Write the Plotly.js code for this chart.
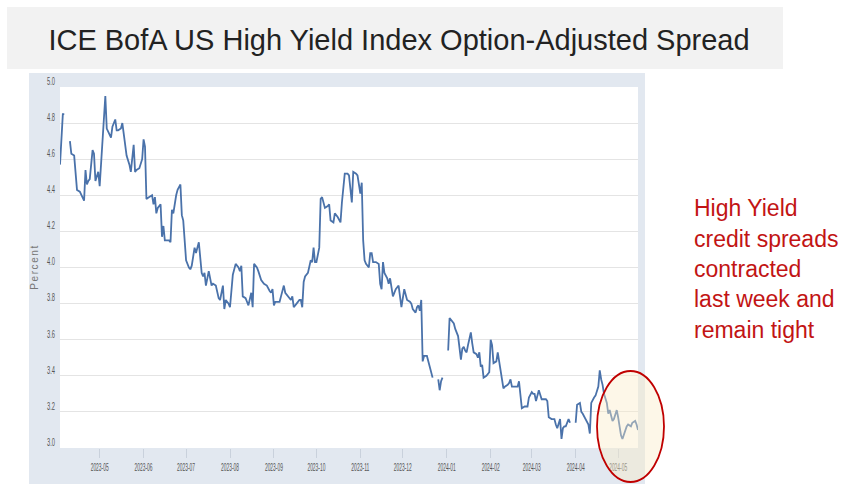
<!DOCTYPE html>
<html>
<head>
<meta charset="utf-8">
<script src="https://cdn.plot.ly/plotly-3.0.1.min.js"></script>
<style>
  html, body { margin: 0; padding: 0; background: #ffffff; }
  #chart { width: 854px; height: 491px; }
</style>
</head>
<body>
<div id="chart"></div>
<script>
// ICE BofA US High Yield Index Option-Adjusted Spread (percent)
const dates = [
  '2023-04-03','2023-04-05','2023-04-06','2023-04-07','2023-04-10','2023-04-11','2023-04-13','2023-04-14','2023-04-15','2023-04-17',
  '2023-04-19','2023-04-20','2023-04-21','2023-04-22','2023-04-23','2023-04-24','2023-04-26','2023-04-27','2023-04-28','2023-04-29',
  '2023-04-30','2023-05-01','2023-05-03','2023-05-05','2023-05-06','2023-05-07','2023-05-09','2023-05-10','2023-05-12','2023-05-13',
  '2023-05-14','2023-05-16','2023-05-17','2023-05-18','2023-05-20','2023-05-22','2023-05-23','2023-05-25','2023-05-26','2023-05-27',
  '2023-05-29','2023-05-31','2023-06-01','2023-06-02','2023-06-03','2023-06-05','2023-06-07','2023-06-08','2023-06-09','2023-06-10',
  '2023-06-11','2023-06-13','2023-06-14','2023-06-15','2023-06-16','2023-06-19','2023-06-20','2023-06-21','2023-06-22','2023-06-24',
  '2023-06-25','2023-06-27','2023-06-28','2023-06-29','2023-07-01','2023-07-03','2023-07-04','2023-07-05','2023-07-07','2023-07-08',
  '2023-07-10','2023-07-12','2023-07-13','2023-07-14','2023-07-15','2023-07-17','2023-07-19','2023-07-20','2023-07-22','2023-07-24',
  '2023-07-25','2023-07-27','2023-07-28','2023-07-29','2023-07-31','2023-08-01','2023-08-03','2023-08-05','2023-08-07','2023-08-08',
  '2023-08-09','2023-08-10','2023-08-12','2023-08-13','2023-08-14','2023-08-16','2023-08-17','2023-08-18','2023-08-20','2023-08-21',
  '2023-08-23','2023-08-25','2023-08-27','2023-08-29','2023-08-30','2023-08-31','2023-09-01','2023-09-02','2023-09-03','2023-09-05',
  '2023-09-06','2023-09-08','2023-09-09','2023-09-11','2023-09-13','2023-09-14','2023-09-15','2023-09-17','2023-09-19','2023-09-20',
  '2023-09-21','2023-09-22','2023-09-23','2023-09-25','2023-09-27','2023-09-28','2023-09-29','2023-09-30','2023-10-01','2023-10-03',
  '2023-10-04','2023-10-05','2023-10-07','2023-10-09','2023-10-10','2023-10-11','2023-10-13','2023-10-14','2023-10-16','2023-10-18',
  '2023-10-19','2023-10-21','2023-10-23','2023-10-24','2023-10-26','2023-10-27','2023-10-29','2023-10-30','2023-10-31','2023-11-01',
  '2023-11-02','2023-11-03','2023-11-04','2023-11-05','2023-11-07','2023-11-08','2023-11-09','2023-11-10','2023-11-12','2023-11-14',
  '2023-11-15','2023-11-16','2023-11-17','2023-11-18','2023-11-20','2023-11-21','2023-11-22','2023-11-23','2023-11-24','2023-11-26',
  '2023-11-28','2023-11-30','2023-12-01','2023-12-02','2023-12-04','2023-12-06','2023-12-07','2023-12-08','2023-12-10','2023-12-11',
  '2023-12-12','2023-12-13','2023-12-14','2023-12-15','2023-12-16','2023-12-18','2023-12-20','2023-12-21','2023-12-22','2023-12-25',
  '2023-12-26','2023-12-27','2023-12-28','2023-12-29','2024-01-01','2024-01-02','2024-01-03','2024-01-06','2024-01-07','2024-01-09',
  '2024-01-10','2024-01-11','2024-01-12','2024-01-13','2024-01-14','2024-01-15','2024-01-16','2024-01-18','2024-01-19','2024-01-20',
  '2024-01-22','2024-01-23','2024-01-24','2024-01-25','2024-01-26','2024-01-27','2024-01-29','2024-01-30','2024-01-31','2024-02-01',
  '2024-02-02','2024-02-03','2024-02-05','2024-02-06','2024-02-08','2024-02-10','2024-02-11','2024-02-13','2024-02-14','2024-02-15',
  '2024-02-16','2024-02-18','2024-02-20','2024-02-21','2024-02-22','2024-02-23','2024-02-25','2024-02-27','2024-02-28','2024-03-01',
  '2024-03-02','2024-03-03','2024-03-04','2024-03-05','2024-03-06','2024-03-08','2024-03-09','2024-03-11','2024-03-12','2024-03-13',
  '2024-03-15','2024-03-17','2024-03-18','2024-03-19','2024-03-21','2024-03-22','2024-03-23','2024-03-24','2024-03-25','2024-03-26',
  '2024-03-27','2024-03-28','2024-03-29','2024-04-01','2024-04-02','2024-04-04','2024-04-05','2024-04-06','2024-04-08','2024-04-10',
  '2024-04-11','2024-04-12','2024-04-14','2024-04-15','2024-04-17','2024-04-18','2024-04-19','2024-04-20','2024-04-21','2024-04-23',
  '2024-04-24','2024-04-25','2024-04-26','2024-04-27','2024-04-28','2024-04-30','2024-05-01','2024-05-02','2024-05-03','2024-05-04',
  '2024-05-06','2024-05-07','2024-05-08','2024-05-10','2024-05-11','2024-05-13','2024-05-14','2024-05-15'
];
const spread = [
  4.57, 4.85, 4.85, null, 4.70, 4.63, 4.62, 4.50, 4.43, 4.42,
  4.39, 4.37, 4.54, 4.46, 4.48, 4.49, 4.65, 4.63, 4.48, 4.50,
  4.53, 4.45, 4.72, 4.95, 4.77, 4.75, 4.72, 4.78, 4.82, 4.76,
  4.76, 4.77, 4.80, 4.74, 4.62, 4.57, 4.53, 4.68, 4.53, 4.54,
  4.55, 4.60, 4.71, 4.67, 4.38, 4.39, 4.40, 4.35, 4.39, 4.30,
  4.33, 4.35, 4.17, 4.23, 4.15, 4.15, 4.14, 4.32, 4.30, 4.40,
  4.43, 4.46, 4.29, 4.26, 4.04, 4.00, 3.99, 4.01, 4.11, 4.08,
  4.14, 3.97, 3.95, 3.97, 3.90, 3.98, 3.90, 3.91, 3.90, 3.83,
  3.82, 3.90, 3.77, 3.82, 3.80, 3.78, 3.96, 4.02, 4.00, 3.98,
  4.01, 3.84, 3.83, 3.81, 3.79, 3.86, 3.78, 4.02, 4.00, 3.98,
  3.93, 3.91, 3.90, 3.87, 3.86, 3.88, 3.79, 3.81, 3.81, 3.81,
  3.84, 3.90, 3.86, 3.84, 3.82, 3.84, 3.78, 3.80, 3.82, 3.82,
  3.78, 3.92, 3.95, 3.97, 4.04, 4.03, 4.11, 4.03, 4.03, 4.11,
  4.38, 4.39, 4.33, 4.34, 4.35, 4.26, 4.25, 4.30, 4.28, 4.25,
  4.36, 4.52, 4.52, 4.51, 4.36, 4.53, 4.52, 4.51, 4.47, 4.41,
  4.47, 4.15, 4.04, 4.02, 4.00, 4.08, 4.08, 4.03, 4.03, 4.02,
  3.91, 3.88, 4.03, 3.97, 3.94, 3.91, 3.94, 3.89, 3.84, 3.88,
  3.90, 3.78, 3.84, 3.88, 3.82, 3.81, 3.80, 3.77, 3.75, 3.78,
  3.79, 3.76, 3.82, 3.48, 3.51, 3.51, 3.45, 3.42, 3.39, null,
  3.38, 3.32, 3.37, 3.39, null, 3.54, 3.72, 3.69, 3.66, 3.62,
  3.56, 3.49, 3.55, 3.56, 3.54, 3.53, 3.57, 3.64, 3.58, 3.53,
  3.52, 3.50, 3.53, 3.45, 3.46, 3.39, 3.40, 3.41, 3.42, 3.60,
  3.57, 3.47, 3.48, 3.53, 3.44, 3.33, 3.34, 3.35, 3.36, 3.38,
  3.34, 3.34, 3.34, 3.37, 3.31, 3.22, 3.23, 3.23, 3.28, 3.31,
  3.30, 3.30, 3.26, 3.30, 3.32, 3.27, 3.27, 3.27, 3.26, 3.17,
  3.16, 3.16, 3.13, 3.11, 3.16, 3.05, 3.11, 3.12, 3.12, 3.14,
  3.16, 3.14, null, 3.14, 3.24, 3.25, 3.20, 3.19, 3.16, 3.13,
  3.08, 3.25, 3.28, 3.29, 3.34, 3.43, 3.38, 3.35, 3.30, 3.25,
  3.19, 3.21, 3.18, 3.15, 3.16, 3.21, 3.17, 3.12, 3.07, 3.05,
  3.10, 3.12, 3.13, 3.12, 3.14, 3.15, 3.13, 3.10
];
const xRange = ['2023-04-03', '2024-05-15'];
const yRange = [3.0, 5.0];
const chartTitle = 'ICE BofA US High Yield Index Option-Adjusted Spread';
const yTitle = 'Percent';
const noteLines = ['High Yield', 'credit spreads', 'contracted', 'last week and', 'remain tight'];

const trace = {
  type: 'scatter', mode: 'lines',
  x: dates, y: spread,
  connectgaps: false,
  line: { color: '#4a72aa', width: 1.8 },
  hoverinfo: 'skip'
};

// plot area: x 60..638, y 87..448 px
const L = 60, R = 638, T = 87, B = 448;
const px = x => (x - L) / (R - L);
const py = y => (B - y) / (B - T);

const annotations = [
  { xref: 'paper', yref: 'paper', x: px(34), y: py(268), text: yTitle, textangle: -90,
    showarrow: false, font: { family: 'Liberation Sans, Arial, sans-serif', size: 10, color: '#777777' },
    xanchor: 'center', yanchor: 'middle' }
];
const noteY = [208, 239, 269, 299, 330];
noteLines.forEach((t, i) => annotations.push({
  xref: 'paper', yref: 'paper', x: px(692), y: py(noteY[i]), text: t, showarrow: false,
  xanchor: 'left', yanchor: 'middle',
  font: { family: 'Liberation Sans, Arial, sans-serif', size: 23, color: '#c21414' }
}));

const layout = {
  width: 854, height: 491,
  margin: { l: L, r: 854 - R, t: T, b: 491 - B, pad: 0 },
  paper_bgcolor: '#ffffff',
  plot_bgcolor: 'rgba(0,0,0,0)',
  showlegend: false,
  title: {
    text: chartTitle, xref: 'container', yref: 'container',
    x: 399 / 854, xanchor: 'center', y: 1 - 40 / 491, yanchor: 'middle',
    font: { family: 'Liberation Sans, Arial, sans-serif', size: 29, color: '#222222' }
  },
  xaxis: {
    type: 'date', range: xRange, tick0: '2023-05-01', dtick: 'M1', tickformat: '%Y-%m',
    tickangle: 0,
    showgrid: false, zeroline: false, showline: false,
    ticks: 'outside', ticklen: 9, tickcolor: '#c9d1dc', tickwidth: 1,
    tickfont: { family: 'Liberation Sans Narrow, Liberation Sans, sans-serif', size: 11, color: '#555555' },
    fixedrange: true
  },
  yaxis: {
    range: yRange, dtick: 0.2, tick0: 3.0, tickformat: '.1f',
    showgrid: true, gridcolor: '#e4e4e4', gridwidth: 1,
    zeroline: false, showline: false, ticks: '',
    ticklabelshift: -6, ticklabelstandoff: 4,
    tickfont: { family: 'Liberation Sans Narrow, Liberation Sans, sans-serif', size: 11, color: '#555555' },
    fixedrange: true
  },
  shapes: [
    { type: 'rect', layer: 'below', xref: 'paper', yref: 'paper',
      x0: px(7), x1: px(783), y0: py(69), y1: py(7),
      fillcolor: '#f2f2f2', line: { width: 0 } },
    { type: 'rect', layer: 'below', xref: 'paper', yref: 'paper',
      x0: px(29), x1: px(645), y0: py(484), y1: py(73),
      fillcolor: '#e2e8f0', line: { width: 0 } },
    { type: 'rect', layer: 'below', xref: 'paper', yref: 'paper',
      x0: 0, x1: 1, y0: 0, y1: 1,
      fillcolor: '#ffffff', line: { width: 0 } },
    { type: 'circle', layer: 'above', xref: 'paper', yref: 'paper',
      x0: px(597), x1: px(664), y0: py(482), y1: py(371),
      fillcolor: 'rgba(250,236,200,0.42)', line: { color: '#c00000', width: 1.8 } }
  ],
  annotations: annotations
};

Plotly.newPlot('chart', [trace], layout, { staticPlot: true, displayModeBar: false }).then(function (gd) {
  gd.querySelectorAll('.xtick text').forEach(function (t) {
    t.setAttribute('textLength', 18);
    t.setAttribute('lengthAdjust', 'spacingAndGlyphs');
  });
  gd.querySelectorAll('.ytick text').forEach(function (t) {
    t.setAttribute('textLength', 8);
    t.setAttribute('lengthAdjust', 'spacingAndGlyphs');
  });
  gd.querySelectorAll('.annotation-text').forEach(function (t) {
    if (t.textContent === yTitle) {
      t.setAttribute('textLength', 44);
      t.setAttribute('lengthAdjust', 'spacing');
    }
  });
});
</script>
</body>
</html>
